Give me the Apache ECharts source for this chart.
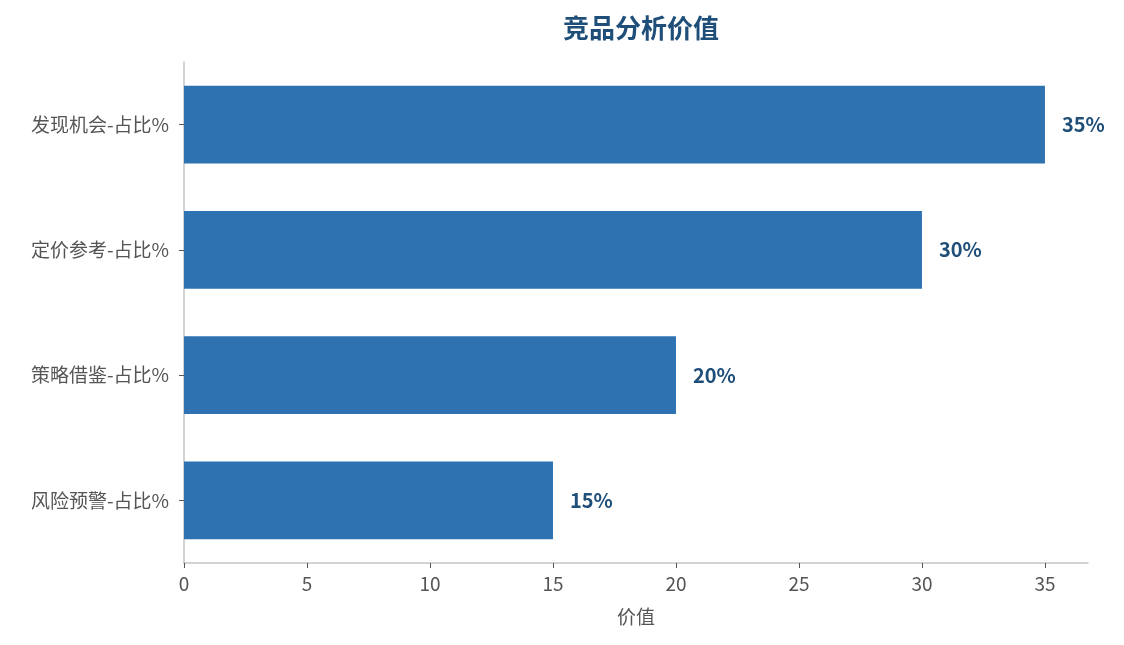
<!DOCTYPE html>
<html><head><meta charset="utf-8">
<script src="https://cdn.jsdelivr.net/npm/echarts@6/dist/echarts.min.js"></script>
<style>html,body{margin:0;padding:0;background:#fff}#c{width:1124px;height:645px}</style>
</head><body><div id="c"></div>
<script>
const categories = ['风险预警-占比%', '策略借鉴-占比%', '定价参考-占比%', '发现机会-占比%'];
const values = [15, 20, 30, 35];
const titleText = '竞品分析价值';
const xName = '价值';
const FONT = '"Noto Sans CJK SC", "Noto Sans", sans-serif';
const chart = echarts.init(document.getElementById('c'));
chart.setOption({
  backgroundColor: '#fff',
  animation: false,
  title: { text: titleText, left: 636, textAlign: 'center', top: 10,
    textStyle: { fontFamily: FONT, fontSize: 26, fontWeight: 'bold', color: '#1f4e79' } },
  grid: { left: 184, right: 36, top: 62, bottom: 82 },
  xAxis: {
    type: 'value', min: 0, max: 36.75, interval: 5,
    name: xName, nameLocation: 'middle', nameGap: 44,
    nameTextStyle: { fontFamily: FONT, fontSize: 19, color: '#555' },
    axisLine: { show: true, lineStyle: { color: '#c4c4c4', width: 1.5 } },
    axisTick: { show: true, length: 5, lineStyle: { color: '#555' } },
    axisLabel: { fontFamily: FONT, fontSize: 19, color: '#555', margin: 11,
      showMaxLabel: false },
    splitLine: { show: false }
  },
  yAxis: {
    type: 'category', data: categories,
    axisLine: { show: true, lineStyle: { color: '#c4c4c4', width: 1.5 } },
    axisTick: { show: true, length: 5, alignWithLabel: true, lineStyle: { color: '#555' } },
    axisLabel: { fontFamily: FONT, fontSize: 19, color: '#555', margin: 15 }
  },
  series: [{
    type: 'bar', data: values, barCategoryGap: '38%',
    itemStyle: { color: '#2e72b2' },
    label: { show: true, position: 'right', distance: 17, formatter: '{c}%',
      fontFamily: FONT, fontSize: 20, fontWeight: 'bold', color: '#1f4e79' }
  }]
});
</script></body></html>
